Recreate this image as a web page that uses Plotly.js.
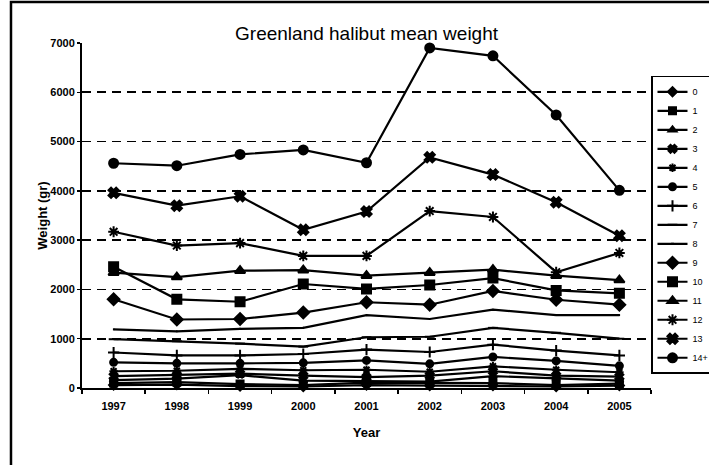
<!DOCTYPE html>
<html>
<head>
<meta charset="utf-8">
<script src="https://cdn.plot.ly/plotly-3.0.1.min.js"></script>
<style>html,body{margin:0;padding:0;background:#fff;}#chart{width:709px;height:465px;}</style>
</head>
<body>
<div id="chart"></div>
<script>
var years = ['1997','1998','1999','2000','2001','2002','2003','2004','2005'];
var seriesNames = ['0','1','2','3','4','5','6','7','8','9','10','11','12','13','14+'];
var age0  = [60, 70, 40, 30, 60, 50, 50, 30, 50];
var age1  = [100, 120, 80, 60, 110, 100, 100, 60, 90];
var age2  = [160, 190, 260, 150, 140, 130, 240, 190, 150];
var age3  = [240, 260, 290, 250, 220, 250, 340, 250, 230];
var age4  = [340, 350, 390, 360, 370, 330, 440, 370, 320];
var age5  = [520, 500, 500, 510, 560, 490, 630, 550, 450];
var age6  = [720, 660, 660, 690, 780, 730, 880, 760, 660];
var age7  = [990, 950, 900, 840, 1030, 1040, 1220, 1120, 1000];
var age8  = [1190, 1150, 1200, 1220, 1480, 1400, 1590, 1480, 1480];
var age9  = [1800, 1390, 1400, 1530, 1740, 1690, 1970, 1790, 1690];
var age10 = [2460, 1800, 1750, 2110, 2010, 2090, 2230, 1980, 1920];
var age11 = [2340, 2250, 2380, 2390, 2280, 2340, 2400, 2280, 2190];
var age12 = [3170, 2890, 2940, 2680, 2680, 3590, 3470, 2350, 2740];
var age13 = [3960, 3700, 3890, 3210, 3580, 4680, 4330, 3770, 3090];
var age14 = [4560, 4510, 4740, 4830, 4570, 6900, 6740, 5540, 4010];
var allSeries = [age0, age1, age2, age3, age4, age5, age6, age7, age8, age9, age10, age11, age12, age13, age14];

var symbols = ['diamond','square','triangle-up','x','asterisk-open','circle','cross-thin-open','line-ew-open','line-ew-open',
               'diamond','square','triangle-up','asterisk-open','x','circle'];
var sizes = [7,7,7,7,7,7,8,7,1,9,9,9,9,9,9];

var FONT = '"Liberation Sans", Arial, sans-serif';

var traces = allSeries.map(function(vals, i){
  return {
    type: 'scatter', mode: 'lines+markers', name: seriesNames[i],
    x: years, y: vals,
    line: {color: '#000', width: 2.2},
    marker: {symbol: symbols[i], size: sizes[i], color: '#000', line: {color: '#000', width: 2}},
    cliponaxis: false
  };
});

var layout = {
  width: 709, height: 465,
  paper_bgcolor: '#fff', plot_bgcolor: '#fff',
  margin: {l: 82, r: 58, t: 43, b: 77, autoexpand: false},
  font: {family: FONT, color: '#000', size: 11},
  title: {text: 'Greenland halibut mean weight', font: {family: FONT, size: 19, color: '#000'},
          x: 0.517, xanchor: 'center', y: 0.929, yanchor: 'middle', yref: 'container'},
  showlegend: true,
  legend: {x: 1.0, xanchor: 'left', y: 0.905, yanchor: 'top',
           bordercolor: '#000', borderwidth: 1.5, bgcolor: '#fff',
           font: {family: FONT, size: 9, color: '#000'}, itemwidth: 30, tracegroupgap: 0},
  xaxis: {
    type: 'category', range: [-0.5, 8.5], fixedrange: true,
    showline: true, linecolor: '#000', linewidth: 2,
    ticks: 'outside', ticklen: 4, tickcolor: '#000', tickwidth: 1.5, tickson: 'boundaries',
    showgrid: false, zeroline: false,
    tickfont: {family: FONT, size: 11, color: '#000', weight: 'bold'},
    ticklabelstandoff: 7,
    title: {text: 'Year', font: {family: FONT, size: 13, color: '#000', weight: 'bold'}, standoff: 17}
  },
  yaxis: {
    range: [0, 7000], dtick: 1000, tick0: 0, fixedrange: true,
    showline: true, linecolor: '#000', linewidth: 2,
    ticks: 'outside', ticklen: 3, tickcolor: '#000', tickwidth: 1.5,
    showgrid: true, gridcolor: '#000', gridwidth: 1.8, griddash: '9px,6px',
    zeroline: false,
    tickfont: {family: FONT, size: 11, color: '#000', weight: 'bold'},
    title: {text: 'Weight (gr)', font: {family: FONT, size: 13, color: '#000', weight: 'bold'}, standoff: 0}
  },
  shapes: [{type: 'rect', xref: 'paper', yref: 'paper', x0: -0.1248, x1: 1.5, y0: -0.4, y1: 1.119,
            line: {color: '#000', width: 2.5}, fillcolor: 'rgba(0,0,0,0)', layer: 'below'}]
};

Plotly.newPlot('chart', traces, layout, {displayModeBar: false, staticPlot: true});
</script>
</body>
</html>
